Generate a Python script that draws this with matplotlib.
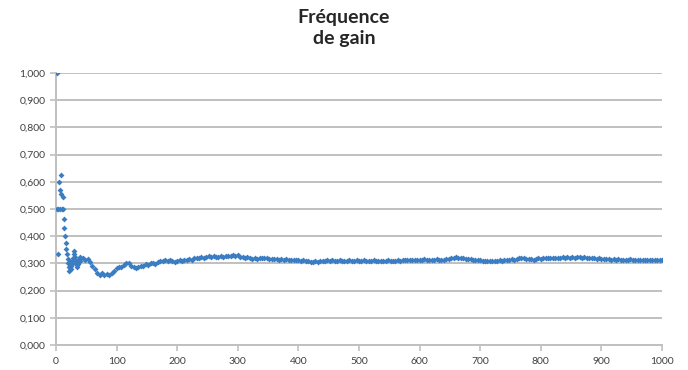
import matplotlib.pyplot as plt
import numpy as np

# premiers tirages (un par un)
early_trials = list(range(1, 41))
early_freq = [1.000, 0.500, 0.333, 0.500, 0.600, 0.500, 0.571, 0.625, 0.556, 0.500,
              0.545, 0.500, 0.462, 0.429, 0.400, 0.375, 0.353, 0.333, 0.316, 0.300,
              0.286, 0.273, 0.304, 0.292, 0.280, 0.308, 0.296, 0.321, 0.345, 0.333,
              0.323, 0.313, 0.303, 0.294, 0.286, 0.306, 0.297, 0.316, 0.308, 0.325]

# ensuite, lecture tous les 4 tirages (44 .. 1000)
late_trials = list(range(44, 1001, 4))
late_freq = [
    0.318, 0.313, 0.317, 0.304, 0.292, 0.281, 0.265, 0.258, 0.263, 0.256,
    0.262, 0.256, 0.263, 0.273, 0.283, 0.288, 0.287, 0.293, 0.302, 0.300,
    0.290, 0.285, 0.282, 0.286, 0.290, 0.292, 0.297, 0.295, 0.300, 0.303,
    0.299, 0.304, 0.307, 0.309, 0.311, 0.308, 0.313, 0.309, 0.305, 0.309,
    0.313, 0.310, 0.314, 0.311, 0.315, 0.313, 0.318, 0.320, 0.319, 0.322,
    0.320, 0.324, 0.326, 0.323, 0.327, 0.325, 0.323, 0.326, 0.324, 0.327,
    0.326, 0.328, 0.330, 0.327, 0.329, 0.325, 0.322, 0.320, 0.322, 0.319,
    0.317, 0.319, 0.316, 0.318, 0.321, 0.320, 0.318, 0.316, 0.317, 0.315,
    0.317, 0.314, 0.316, 0.313, 0.315, 0.314, 0.312, 0.314, 0.311, 0.313,
    0.310, 0.312, 0.309, 0.308, 0.306, 0.305, 0.307, 0.306, 0.309, 0.310,
    0.308, 0.311, 0.309, 0.312, 0.310, 0.308, 0.311, 0.309, 0.310, 0.308,
    0.311, 0.309, 0.310, 0.312, 0.310, 0.309, 0.311, 0.308, 0.310, 0.309,
    0.311, 0.309, 0.308, 0.310, 0.307, 0.309, 0.311, 0.310, 0.308, 0.310,
    0.312, 0.310, 0.311, 0.313, 0.311, 0.312, 0.314, 0.312, 0.313, 0.311,
    0.313, 0.315, 0.313, 0.312, 0.314, 0.313, 0.315, 0.314, 0.312, 0.314,
    0.316, 0.315, 0.318, 0.320, 0.322, 0.321, 0.319, 0.320, 0.317, 0.316,
    0.315, 0.313, 0.314, 0.312, 0.311, 0.309, 0.310, 0.308, 0.307, 0.309,
    0.307, 0.309, 0.311, 0.310, 0.312, 0.311, 0.313, 0.315, 0.314, 0.316,
    0.318, 0.320, 0.319, 0.317, 0.315, 0.316, 0.314, 0.316, 0.318, 0.317,
    0.319, 0.318, 0.320, 0.319, 0.321, 0.320, 0.318, 0.320, 0.322, 0.321,
    0.322, 0.320, 0.322, 0.321, 0.323, 0.322, 0.321, 0.322, 0.320, 0.319,
    0.320, 0.318, 0.317, 0.318, 0.316, 0.317, 0.315, 0.316, 0.314, 0.315,
    0.313, 0.315, 0.314, 0.312, 0.314, 0.313, 0.315, 0.313, 0.312, 0.314,
    0.313, 0.311, 0.313, 0.312, 0.314, 0.312, 0.313, 0.311, 0.313, 0.312,
]

y_ticks = [0.0, 0.1, 0.2, 0.3, 0.4, 0.5, 0.6, 0.7, 0.8, 0.9, 1.0]
x_ticks = [0, 100, 200, 300, 400, 500, 600, 700, 800, 900, 1000]

blue = '#3A7DC2'
grid_grey = '#C0C0C0'
text_grey = '#404040'

fig = plt.figure(figsize=(6.88, 3.70), dpi=100)
ax = fig.add_axes([0.0814, 0.0676, 0.8808, 0.7354])

trials = early_trials + late_trials
freq = early_freq + late_freq
ax.plot(trials, freq, linestyle='none', marker='D', markersize=3.0,
        markeredgewidth=0, color=blue, zorder=3)

ax.set_xlim(0, 1000)
ax.set_ylim(0, 1)
ax.set_yticks(y_ticks)
ax.set_yticklabels([f"{v:.3f}".replace('.', ',') for v in y_ticks])
ax.set_xticks(x_ticks)
ax.set_xticklabels([str(v) for v in x_ticks])

ax.grid(axis='y', color=grid_grey, linewidth=1.4, zorder=0)
ax.set_axisbelow(True)
for side in ['top', 'right']:
    ax.spines[side].set_visible(False)
ax.spines['left'].set_color(grid_grey)
ax.spines['left'].set_linewidth(1.4)
ax.spines['bottom'].set_color(grid_grey)
ax.spines['bottom'].set_linewidth(1.4)
ax.tick_params(axis='both', colors=grid_grey, length=4, width=1.2,
               labelcolor=text_grey, labelsize=7.5)
ax.tick_params(axis='x', pad=5)
for lab in ax.get_xticklabels() + ax.get_yticklabels():
    lab.set_family(['Lato', 'DejaVu Sans'])

fig.text(0.5, 0.975, "Fréquence\nde gain", ha='center', va='top',
         fontsize=14, fontweight='bold', color='#262626',
         family=['Lato', 'DejaVu Sans'], linespacing=1.3)

fig.savefig('out.png', dpi=100)
